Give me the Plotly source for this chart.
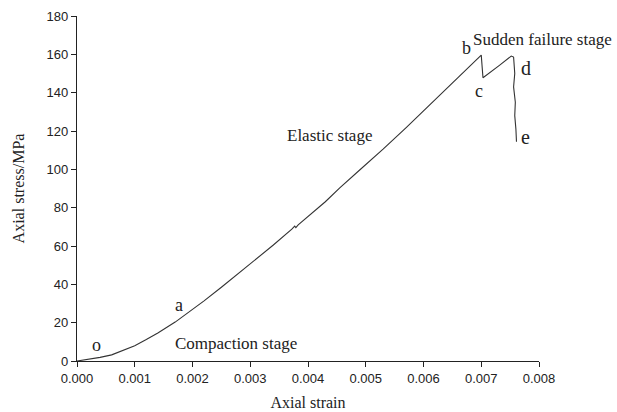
import plotly.graph_objects as go

strain = [0.0, 0.0002, 0.0004, 0.0006, 0.0008, 0.001, 0.0012, 0.0014, 0.0017, 0.0019,
          0.0022, 0.0025, 0.0028, 0.0031, 0.0034, 0.00372, 0.00377, 0.00379, 0.00383,
          0.0043, 0.00455, 0.0049, 0.0053, 0.0057, 0.0061, 0.0064, 0.0068, 0.00700,
          0.00703, 0.0071, 0.00732, 0.00752, 0.00756, 0.00758, 0.00756, 0.00759, 0.00758,
          0.00760, 0.00761]
stress = [0.0, 0.8, 1.9, 3.2, 5.4, 8.0, 11.2, 14.6, 20.3, 24.6,
          31.4, 38.5, 45.8, 53.0, 60.5, 68.8, 70.4, 69.6, 71.0,
          83.1, 90.3, 99.8, 110.5, 121.8, 133.5, 142.5, 154.0, 159.6,
          147.8, 149.5, 154.4, 159.1, 158.6, 150.0, 143.0, 135.0, 128.0,
          121.0, 114.4]

x_ticks = [0.000, 0.001, 0.002, 0.003, 0.004, 0.005, 0.006, 0.007, 0.008]
y_ticks = [0, 20, 40, 60, 80, 100, 120, 140, 160, 180]

labels = ["o", "a", "Compaction stage", "Elastic stage", "b", "Sudden failure stage", "c", "d", "e"]
label_x = [0.00033, 0.00176, 0.00275, 0.00438, 0.00675, 0.00682, 0.00696, 0.00778, 0.00777]
label_y = [8.4, 29.2, 9.0, 117.4, 163.1, 167.5, 141.0, 152.7, 117.0]
label_anchor = ["center", "center", "center", "center", "center", "left", "center", "center", "center"]
label_size = [18, 18, 17, 17, 18, 17, 18, 20, 20]

fig = go.Figure()
fig.add_trace(go.Scatter(x=strain, y=stress, mode="lines",
                         line=dict(color="#333333", width=1.1), showlegend=False))

for t, xx, yy, anc, s in zip(labels, label_x, label_y, label_anchor, label_size):
    fig.add_annotation(x=xx, y=yy, text=t, showarrow=False, xanchor=anc,
                       font=dict(family="Liberation Serif", size=s, color="#222"))

fig.update_layout(
    width=617, height=412,
    margin=dict(l=77, r=78, t=16, b=51),
    paper_bgcolor="white", plot_bgcolor="white",
    font=dict(family="Liberation Sans", size=13, color="#222"),
)
fig.update_xaxes(range=[0, 0.008], tickvals=x_ticks, automargin=False,
                 ticktext=[f"{v:.3f}" for v in x_ticks],
                 showgrid=False, zeroline=False, showline=True, linecolor="#222", linewidth=1.2,
                 ticks="outside", ticklen=5, tickwidth=1.2, tickcolor="#222",
                 tickfont=dict(family="Liberation Sans", size=13, color="#222"),
                 title=dict(text="Axial strain", font=dict(family="Liberation Serif", size=16, color="#222"), standoff=12))
fig.update_yaxes(range=[0, 180], tickvals=y_ticks, automargin=False,
                 showgrid=False, zeroline=False, showline=True, linecolor="#222", linewidth=1.2,
                 ticks="outside", ticklen=5, tickwidth=1.2, tickcolor="#222",
                 tickfont=dict(family="Liberation Sans", size=13, color="#222"),
                 title=dict(text="Axial stress/MPa", font=dict(family="Liberation Serif", size=16, color="#222"), standoff=17))

fig.write_html("out.html")
